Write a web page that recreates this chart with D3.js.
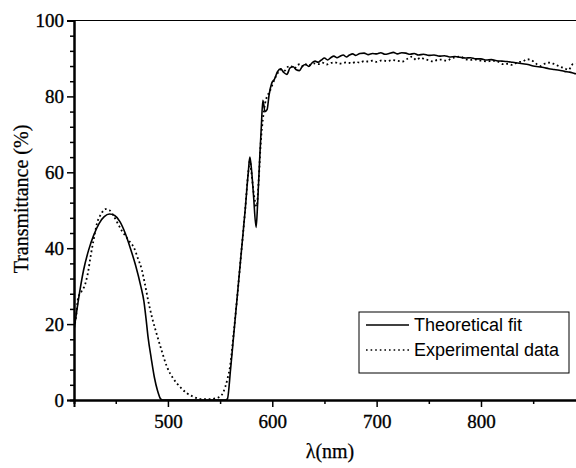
<!DOCTYPE html>
<html>
<head>
<meta charset="utf-8">
<script src="https://cdn.jsdelivr.net/npm/d3@7"></script>
<style>
  body { margin: 0; background: #fff; }
  svg { display: block; }
</style>
</head>
<body>
<div id="chart"></div>
<script>
// wavelength (nm) and transmittance (%)
var fitX = [410,414,419,424,429,434,439,444,449,454,459,464,469,474,477,479,481,484,487,490,493,495,500,520,540,555,557,560,563,566,570,574,577,578.5,580,582,584.5,586,588,589.5,591,593,595,597,599.5,602,605,608,611,614,617,620,623,626,629,632,635,638,641,644,647,650,653,656,659,662,665,668,671,674,677,680,684,688,692,696,700,704,708,712,716,720,724,728,732,736,740,745,750,755,760,765,770,775,780,785,790,795,800,805,810,815,820,825,830,835,840,845,850,855,860,865,870,875,880,885,890,893];
var fitY = [18.5,26,34,39.5,43.5,46.5,48.3,49,48.6,47,44,40,35.5,30,26,21.5,16.5,11,6,2.5,0.3,0,0,0,0,0,0.3,8,17,26,38,50,60,64,61,54,45.5,52,64,72,79,76,76.5,80.5,83.5,84.5,86.5,87.3,86.3,85.8,87.5,87.8,87,86.8,88,88.4,87.9,88.8,89.3,89,89.6,90.1,89.6,90.2,90.6,90.2,90.6,90.9,90.4,90.9,91.2,90.8,91.3,91.4,91,91.3,91.2,91.5,91.1,91.3,91.6,91.2,91.5,91.4,91.1,91.3,90.9,91.1,90.8,90.9,90.6,90.7,90.4,90.5,90.3,90.1,90.2,89.9,89.9,89.6,89.7,89.4,89.3,89.2,89,88.8,88.6,88.4,88,87.8,87.6,87.3,87.1,86.9,86.6,86.4,86,85.9];

var expX = [410,412,414,417,420,423,426,429,432,436,440,444,448,452,456,460,464,467,471,475,478,481,485,489,494,499,505,511.5,518,524,530,534,540,545,550,553,555,557,559.5,563,566,570,574,577,578.5,580,582,585,587,589,591,593,595,597,600,603,606,609,612,615,618,621,624,627,630,633,636,640,644,648,652,656,660,664,668,672,676,680,684,688,692,696,700,705,710,715,720,725,730,734,738,742,746,750,754,758,762,767,771,775,780,785,790,795,800,806,810,815,821,826,830,835,840,844,848,852,857,861,866,871,876,880,884,888,893];
var expY = [19,22,27,28.5,30,33,38,42.5,46.5,49,50.3,50,48.5,46.5,44.5,43,41.5,40.4,37.5,34.3,30.5,26.3,21.5,17.6,13,8.8,5.7,3.5,1.8,0.9,0.3,0.2,0.2,0.4,0.9,2,3.5,5.5,8.8,17.6,26,38,50,60,63,60,55,51,58,68,74,78,80,81,83,85,86.5,87.2,86.8,87.8,88,87.3,88.2,88.5,87.8,88.6,88.3,88.7,88.5,88.9,88.4,88.8,89,88.6,88.8,89,88.7,89.1,88.9,89.3,89.2,89.4,89.1,89.5,89.3,89.6,89.4,89.2,90,90.5,89.6,90.2,89.8,89.5,89.2,89.6,89.7,89.4,89.9,90.3,90.5,89.8,89.6,89.7,89.4,89.2,89.4,89.3,88.5,88.6,88.3,89,89.2,89.8,89.6,88.8,88,88.6,88.9,88.4,87.8,87.4,87,88.5,88.6];

var xMajor = [500, 600, 700, 800];
var xMinor = [450, 550, 650, 750, 850];
var yMajor = [0, 20, 40, 60, 80, 100];
var seriesNames = ["Theoretical fit", "Experimental data"];

var W = 576, H = 468;
var mLeft = 74, mRight = 577, mTop = 20.5, mBottom = 400;
var serif = "'Liberation Serif', 'Times New Roman', serif";

var svg = d3.select("#chart").append("svg")
    .attr("width", W)
    .attr("height", H);

var x = d3.scaleLinear().domain([410, 892]).range([mLeft, mRight]);
var y = d3.scaleLinear().domain([0, 100]).range([mBottom, mTop]);

// clip so the curves stay inside the frame
svg.append("clipPath").attr("id", "clip")
  .append("rect")
    .attr("x", mLeft).attr("y", mTop - 2)
    .attr("width", mRight - mLeft).attr("height", mBottom - mTop + 2);

// frame: top line
svg.append("line")
    .attr("x1", mLeft).attr("x2", W)
    .attr("y1", mTop).attr("y2", mTop)
    .attr("stroke", "#000").attr("stroke-width", 1.2);

// y minor ticks every 4 %
var yMinor = d3.range(0, 101, 4).filter(function(v) { return v % 20 !== 0; });

svg.append("g")
    .attr("transform", "translate(" + mLeft + ",0)")
    .call(d3.axisLeft(y).tickValues(yMajor).tickSize(7).tickPadding(3).tickFormat(d3.format("d")));
svg.append("g")
    .attr("transform", "translate(" + mLeft + ",0)")
    .call(d3.axisLeft(y).tickValues(yMinor).tickSize(4).tickFormat(""));

svg.append("g")
    .attr("transform", "translate(0," + mBottom + ")")
    .call(d3.axisBottom(x).tickValues(xMajor).tickSize(7).tickPadding(8).tickFormat(d3.format("d")));
svg.append("g")
    .attr("transform", "translate(0," + mBottom + ")")
    .call(d3.axisBottom(x).tickValues(xMinor).tickSize(4).tickFormat(""));

svg.selectAll(".domain").attr("stroke-width", 2);
svg.selectAll(".tick line").attr("stroke-width", 1.5);
svg.selectAll(".tick text")
    .style("font-family", serif)
    .style("font-size", "19px")
    .style("fill", "#000")
    .style("stroke", "#000")
    .style("stroke-width", "0.35px");

// curves
var line = d3.line()
    .x(function(d) { return x(d[0]); })
    .y(function(d) { return y(d[1]); })
    .curve(d3.curveMonotoneX);

var plot = svg.append("g").attr("clip-path", "url(#clip)");

plot.append("path")
    .datum(expX.map(function(v, i) { return [v, expY[i]]; }))
    .attr("d", line)
    .attr("fill", "none")
    .attr("stroke", "#000")
    .attr("stroke-width", 1.8)
    .attr("stroke-dasharray", "1.8,2.8");

plot.append("path")
    .datum(fitX.map(function(v, i) { return [v, fitY[i]]; }))
    .attr("d", line)
    .attr("fill", "none")
    .attr("stroke", "#000")
    .attr("stroke-width", 1.6);

// axis titles
svg.append("text")
    .attr("transform", "translate(28,199) rotate(-90)")
    .attr("text-anchor", "middle")
    .style("font-family", serif)
    .style("font-size", "20px")
    .style("stroke", "#000")
    .style("stroke-width", "0.25px")
    .text("Transmittance (%)");

svg.append("text")
    .attr("x", 330)
    .attr("y", 458)
    .attr("text-anchor", "middle")
    .style("font-family", serif)
    .style("font-size", "20px")
    .style("stroke", "#000")
    .style("stroke-width", "0.25px")
    .text("λ(nm)");

// legend
var legend = svg.append("g");
legend.append("rect")
    .attr("x", 359).attr("y", 312)
    .attr("width", 210).attr("height", 61)
    .attr("fill", "#fff")
    .attr("stroke", "#000")
    .attr("stroke-width", 1);

seriesNames.forEach(function(name, i) {
  var ly = 325 + i * 25;
  legend.append("line")
      .attr("x1", 366).attr("x2", 409)
      .attr("y1", ly).attr("y2", ly)
      .attr("stroke", "#000")
      .attr("stroke-width", 1.4)
      .attr("stroke-dasharray", i === 1 ? "1.6,3" : null);
  legend.append("text")
      .attr("x", 414).attr("y", ly + 6)
      .style("font-family", "'Liberation Sans', Arial, sans-serif")
      .style("font-size", "18px")
      .text(name);
});
</script>
</body>
</html>
